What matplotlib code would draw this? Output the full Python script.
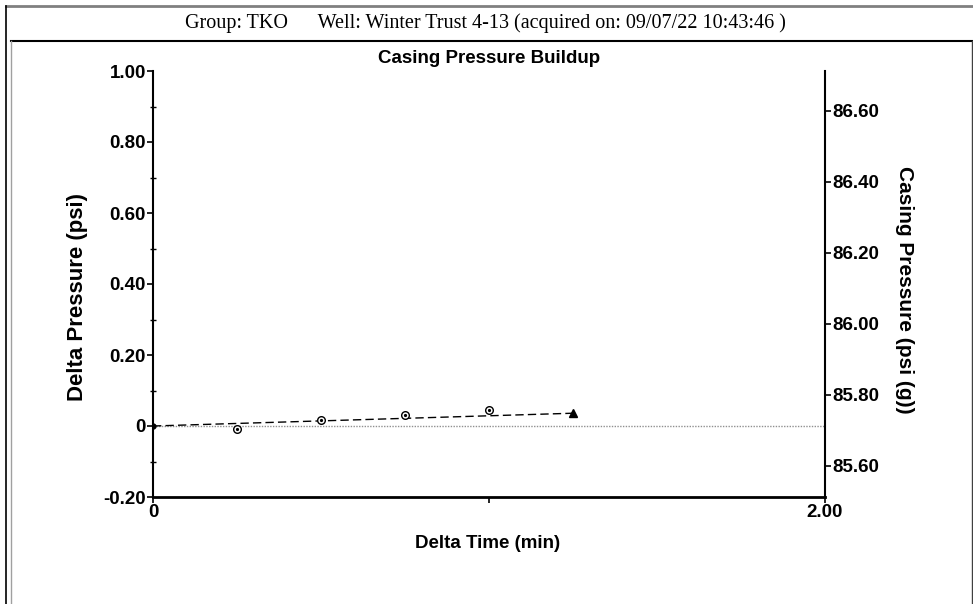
import matplotlib
matplotlib.use("Agg")
import matplotlib.pyplot as plt
from matplotlib.lines import Line2D
from matplotlib.ticker import FixedLocator, FuncFormatter

plt.rcParams['font.family'] = ['Liberation Sans', 'DejaVu Sans']

# Data
delta_time = [0.0, 0.25, 0.50, 0.75, 1.00]
delta_pressure = [0.0, -0.008, 0.017, 0.032, 0.045]
last_time = [1.25]
last_pressure = [0.036]
fit_time = [0.0, 1.25]
fit_pressure = [0.0, 0.036]
base_casing = 85.712

left_ticks = [-0.20, 0.0, 0.20, 0.40, 0.60, 0.80, 1.00]
right_ticks = [85.60, 85.80, 86.00, 86.20, 86.40, 86.60]
x_ticks = [0, 1.0, 2.0]
x_labels = ['0', '', '2.00']

header = "Group: TKO      Well: Winter Trust 4-13 (acquired on: 09/07/22 10:43:46 )"

fig = plt.figure(figsize=(9.73, 6.04), dpi=100)
W, H = 973, 604

def fx(px):
    return px / W

def fy(py):
    return 1 - py / H

# Frame decorations
fig.add_artist(Line2D([fx(6), fx(973)], [fy(5.5), fy(5.5)], color='#808080', lw=2, transform=fig.transFigure))
fig.add_artist(Line2D([fx(6), fx(6)], [fy(5.5), fy(604)], color='black', lw=1.2, transform=fig.transFigure))
fig.add_artist(Line2D([fx(10.5), fx(972)], [fy(40.5), fy(40.5)], color='black', lw=1.5, transform=fig.transFigure))
fig.add_artist(Line2D([fx(11), fx(11)], [fy(40.5), fy(604)], color='#a0a0a0', lw=1, transform=fig.transFigure))
fig.add_artist(Line2D([fx(972), fx(972)], [fy(40.5), fy(604)], color='#404040', lw=1, transform=fig.transFigure))

fig.text(fx(485), fy(23), header, ha='center', va='center', fontsize=14.5,
         family=['Liberation Serif', 'DejaVu Serif'])

ax = fig.add_axes([fx(153), fy(497), fx(825) - fx(153), fy(71) - fy(497)])
ax.set_xlim(0, 2.0)
ax.set_ylim(-0.20, 1.00)

ax.axhline(0, color='#909090', lw=1, ls=(0, (1, 1)), zorder=1)
ax.plot(fit_time, fit_pressure, color='black', lw=1, ls=(0, (6, 3)), zorder=2)
ax.plot(delta_time[1:], delta_pressure[1:], ls='none', marker='o', ms=5.5,
        mfc='white', mec='black', mew=1, zorder=3)
ax.plot(delta_time[1:], delta_pressure[1:], ls='none', marker='o', ms=1.3,
        mfc='black', mec='black', zorder=4)
ax.plot(delta_time[:1], delta_pressure[:1], ls='none', marker='o', ms=3.5,
        mfc='black', mec='black', zorder=4)
ax.plot(last_time, last_pressure, ls='none', marker='^', ms=6,
        mfc='black', mec='black', zorder=4)

for s in ['top', 'right']:
    ax.spines[s].set_visible(False)
ax.spines['left'].set_linewidth(1.5)
ax.spines['bottom'].set_linewidth(2)

def left_fmt(v, pos):
    if abs(v) < 1e-9:
        return '0'
    return f"{v:.2f}"

TS = 13.5
ax.yaxis.set_major_locator(FixedLocator(left_ticks))
ax.yaxis.set_major_formatter(FuncFormatter(left_fmt))
ax.yaxis.set_minor_locator(FixedLocator([-0.1, 0.1, 0.3, 0.5, 0.7, 0.9]))
ax.tick_params(axis='y', which='major', direction='out', length=4, width=1.2,
               labelsize=TS, pad=1)
ax.tick_params(axis='y', which='minor', direction='inout', length=4, width=1)
ax.xaxis.set_major_locator(FixedLocator(x_ticks))
ax.set_xticklabels(x_labels)
ax.tick_params(axis='x', which='major', direction='out', length=4, width=1.2,
               labelsize=TS, pad=1)
for lab in ax.get_xticklabels() + ax.get_yticklabels():
    lab.set_fontweight('bold')

ax.set_xlabel('Delta Time (min)', fontsize=TS, fontweight='bold', va='center')
ax.xaxis.set_label_coords(0.4985, -0.110)
ax.set_ylabel('Delta Pressure (psi)', fontsize=16, fontweight='bold', va='center')
ax.yaxis.set_label_coords(-0.113, 0.47)
ax.set_title('Casing Pressure Buildup', fontsize=TS, fontweight='bold', y=1.03,
             va='center', pad=0)

ax2 = ax.twinx()
ax2.set_ylim(base_casing - 0.20, base_casing + 1.00)
for s in ['top', 'left', 'bottom']:
    ax2.spines[s].set_visible(False)
ax2.spines['right'].set_linewidth(1.5)
ax2.yaxis.set_major_locator(FixedLocator(right_ticks))
ax2.yaxis.set_major_formatter(FuncFormatter(lambda v, p: f"{v:.2f}"))
ax2.tick_params(axis='y', which='major', direction='out', length=4, width=1.2,
                labelsize=TS, pad=1)
for lab in ax2.get_yticklabels():
    lab.set_fontweight('bold')
ax2.set_ylabel('Casing Pressure (psi (g))', fontsize=15, fontweight='bold',
               rotation=270, va='center')
ax2.yaxis.set_label_coords(1.119, 0.486)

fig.savefig('out.png', dpi=100)
